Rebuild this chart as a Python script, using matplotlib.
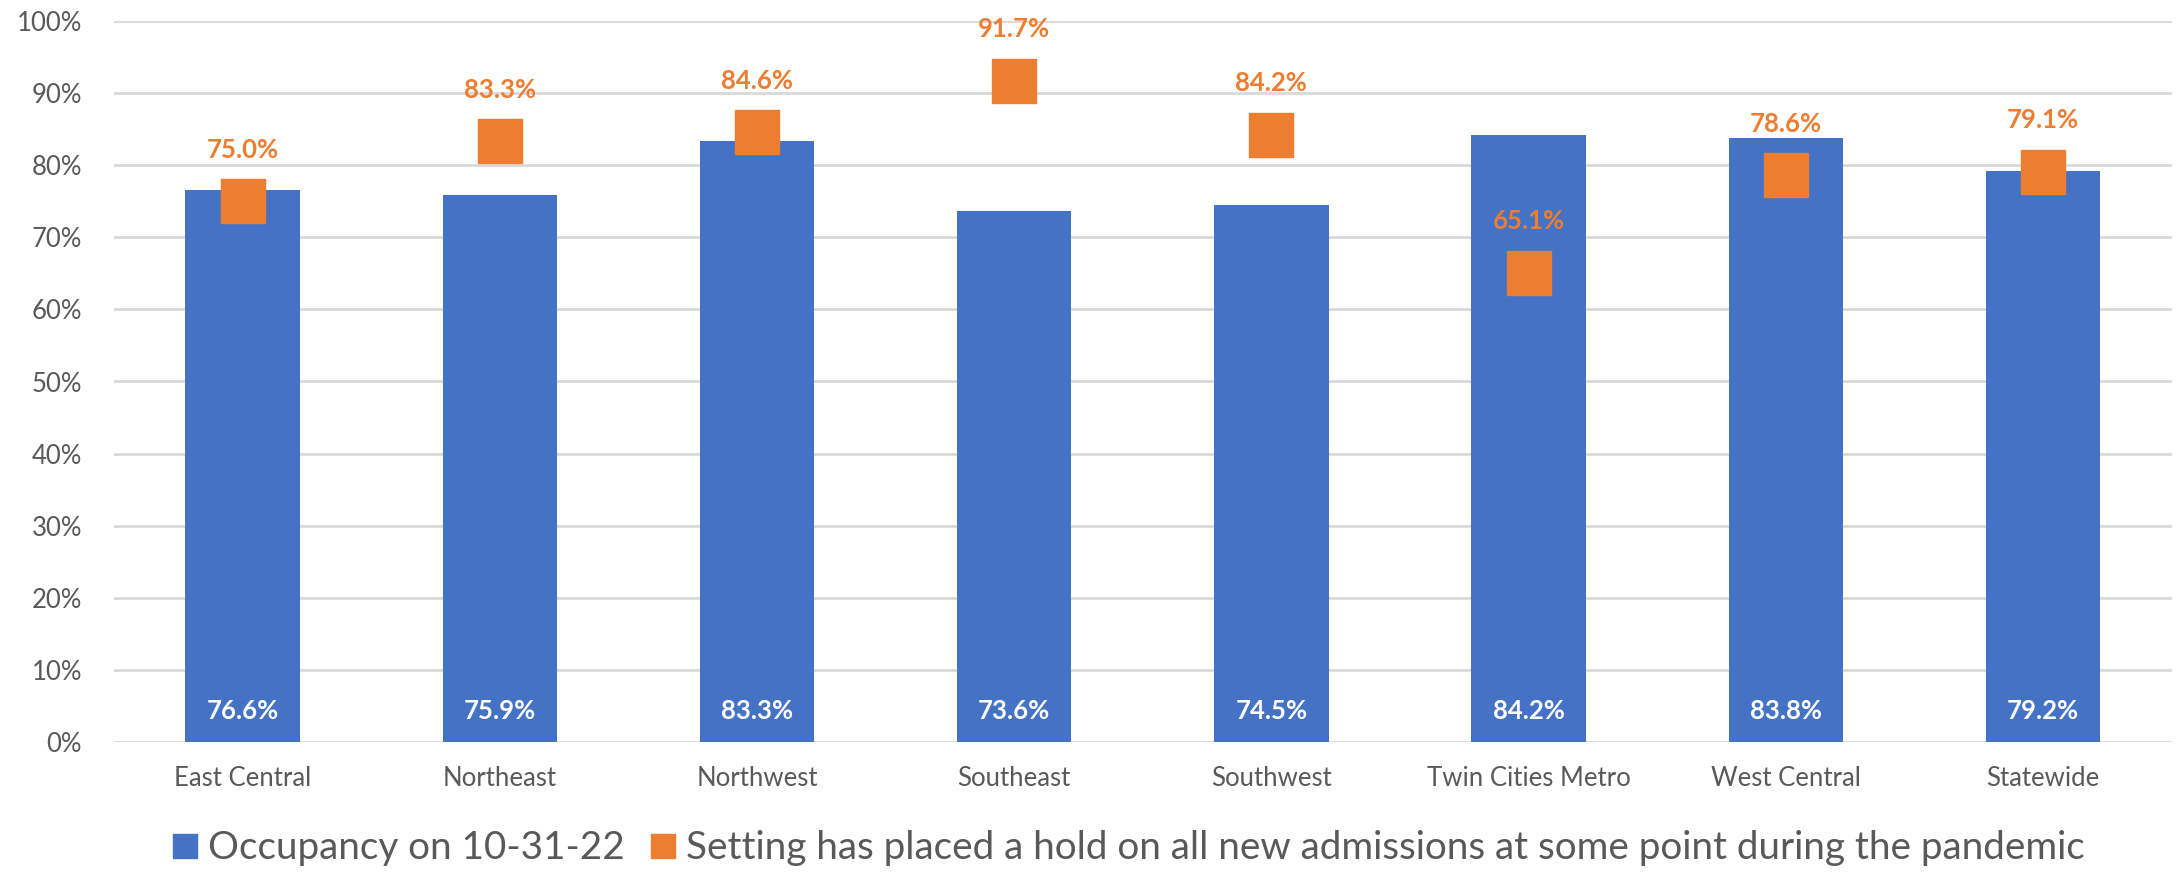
import matplotlib
matplotlib.use('Agg')
import matplotlib.pyplot as plt
from matplotlib.lines import Line2D
import numpy as np

regions = ['East Central', 'Northeast', 'Northwest', 'Southeast', 'Southwest',
           'Twin Cities Metro', 'West Central', 'Statewide']
occupancy = [76.6, 75.9, 83.3, 73.6, 74.5, 84.2, 83.8, 79.2]
hold = [75.0, 83.3, 84.6, 91.7, 84.2, 65.1, 78.6, 79.1]

blue = '#4472C4'
orange = '#ED7D31'
grey = '#595959'

plt.rcParams['font.family'] = ['Lato', 'DejaVu Sans']

fig = plt.figure(figsize=(21.76, 8.72), dpi=100)
ax = fig.add_axes([0.0524, 0.149, 0.9456, 0.827])

x = np.arange(len(regions))
occ = np.array(occupancy) / 100
hld = np.array(hold) / 100

ax.bar(x, occ, width=0.445, color=blue, zorder=2)
ax.plot(x, hld, linestyle='none', marker='s', markersize=31.5, color=orange, zorder=3)

for xi, v in zip(x, occ):
    ax.text(xi, 0.043, f'{v * 100:.1f}%', ha='center', va='center', color='white',
            fontsize=18.5, fontweight='bold', zorder=4)
for xi, v in zip(x, hld):
    ax.annotate(f'{v * 100:.1f}%', (xi, v), xytext=(0, 37), textcoords='offset points',
                ha='center', va='center', color=orange, fontsize=18.5, fontweight='bold')

ax.set_xlim(-0.5, len(regions) - 0.5)
ax.set_ylim(0, 1)
ax.set_yticks(np.arange(0, 1.01, 0.1))
ax.set_yticklabels([f'{int(round(t * 100))}%' for t in np.arange(0, 1.01, 0.1)])
ax.set_xticks(x)
ax.set_xticklabels(regions)
ax.tick_params(axis='both', length=0, labelsize=18.5, labelcolor=grey)
ax.tick_params(axis='x', pad=17)
ax.tick_params(axis='y', pad=23)
ax.yaxis.grid(True, color='#D9D9D9', linewidth=2, zorder=0)
ax.set_axisbelow(True)
for s in ax.spines.values():
    s.set_visible(False)

handles = [
    Line2D([], [], linestyle='none', marker='s', markersize=17, color=blue),
    Line2D([], [], linestyle='none', marker='s', markersize=17, color=orange),
]
labels = ['Occupancy on 10-31-22',
          'Setting has placed a hold on all new admissions at some point during the pandemic']
fig.legend(handles, labels, loc='center', bbox_to_anchor=(0.518, 0.027), ncol=2,
           frameon=False, fontsize=27.8, labelcolor=grey, handletextpad=0.2,
           columnspacing=0.6, handlelength=0.8)

fig.savefig('out.png', dpi=100)
